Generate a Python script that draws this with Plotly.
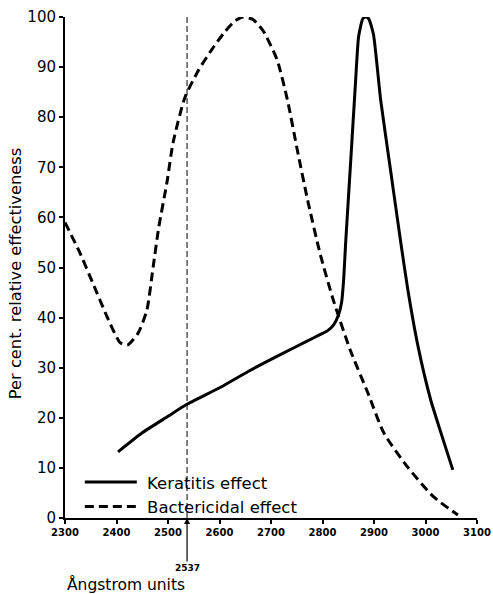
import plotly.graph_objects as go

# Keratitis effect (solid)
ker_x = [2403, 2450, 2500, 2535, 2602, 2660, 2720, 2770, 2795, 2810, 2822, 2831, 2837, 2841, 2845, 2854, 2864, 2870, 2878, 2884, 2890, 2899, 2913, 2932, 2952, 2965, 2985, 3010, 3030, 3053]
ker_y = [13.2, 17.0, 20.3, 22.6, 26.1, 29.5, 32.7, 35.3, 36.6, 37.4, 38.6, 40.5, 43.0, 47.5, 55.0, 70.0, 86.8, 96.0, 99.6, 100, 99.6, 96.5, 83.4, 69.5, 55.0, 46.0, 34.5, 23.6, 17.0, 9.6]

# Bactericidal effect (dashed)
bac_x = [2300, 2329, 2354, 2382, 2407, 2421, 2442, 2459, 2471, 2482, 2498, 2510, 2533, 2560, 2585, 2610, 2630, 2646, 2665, 2685, 2712, 2732, 2751, 2771, 2796, 2821, 2854, 2888, 2919, 2965, 3016, 3063]
bac_y = [59.0, 52.9, 46.9, 40.1, 35.0, 34.5, 36.9, 41.5, 50.0, 58.0, 67.0, 75.0, 84.0, 89.5, 93.5, 97.0, 99.2, 100, 99.5, 97.2, 91.4, 83.4, 73.5, 63.5, 52.5, 43.5, 33.5, 25.0, 17.0, 10.2, 4.2, 0.6]

x_ticks = [2300, 2400, 2500, 2600, 2700, 2800, 2900, 3000, 3100]
y_ticks = [0, 10, 20, 30, 40, 50, 60, 70, 80, 90, 100]
marker_x = 2537

font = "DejaVu Sans"

fig = go.Figure()
fig.add_trace(go.Scatter(x=ker_x, y=ker_y, mode="lines", name=" Keratitis effect",
                         line=dict(color="black", width=3, shape="spline", smoothing=0.5),
                         cliponaxis=False))
fig.add_trace(go.Scatter(x=bac_x, y=bac_y, mode="lines", name=" Bactericidal effect",
                         line=dict(color="black", width=3, dash="9px,5px", shape="spline", smoothing=0.6),
                         cliponaxis=False))

fig.add_shape(type="line", xref="x", yref="y", x0=marker_x, x1=marker_x, y0=0, y1=100,
              line=dict(color="black", width=1, dash="6px,3px"))

fig.add_annotation(x=marker_x, y=0, xref="x", yref="y", ax=0, ay=50,
                   text="<b>" + str(marker_x) + "</b>", showarrow=True, arrowhead=2, arrowsize=1,
                   arrowwidth=1.2, arrowcolor="black",
                   font=dict(family=font, size=9, color="black"))

fig.add_annotation(x=0.0, y=-0.133, xref="paper", yref="paper", xanchor="left", yanchor="middle",
                   text="Ångstrom units", showarrow=False,
                   font=dict(family=font, size=15.5, color="black"))

fig.add_annotation(x=-0.121, y=0.487, xref="paper", yref="paper", xanchor="center", yanchor="middle",
                   text="Per cent. relative effectiveness", textangle=-90, showarrow=False,
                   font=dict(family=font, size=16.25, color="black"))

fig.update_layout(
    width=493, height=594,
    margin=dict(l=65, r=16, t=17, b=76, autoexpand=False),
    paper_bgcolor="white", plot_bgcolor="white",
    showlegend=True,
    legend=dict(x=0.036, y=0.106, xanchor="left", yanchor="top",
                bgcolor="rgba(0,0,0,0)", font=dict(family=font, size=16.5, color="black"),
                itemwidth=52, tracegroupgap=0),
    font=dict(family=font, color="black"),
)
fig.update_xaxes(range=[2300, 3100], tickvals=x_ticks, ticktext=["<b>%d</b>" % v for v in x_ticks],
                 showgrid=False, zeroline=False, showline=True, linecolor="black", linewidth=2,
                 ticks="outside", ticklen=4, tickwidth=1.5, tickcolor="black", automargin=False,
                 tickfont=dict(family=font, size=10, color="black"))
fig.update_yaxes(range=[0, 100], tickvals=y_ticks, ticktext=[str(v) for v in y_ticks],
                 showgrid=False, zeroline=False, showline=True, linecolor="black", linewidth=2,
                 ticks="outside", ticklen=4, tickwidth=1.5, tickcolor="black", automargin=False,
                 tickfont=dict(family=font, size=15, color="black"))

fig.write_html("out.html", config={"displayModeBar": False},
               post_script="document.body.style.margin='0';document.body.style.overflow='hidden';")
